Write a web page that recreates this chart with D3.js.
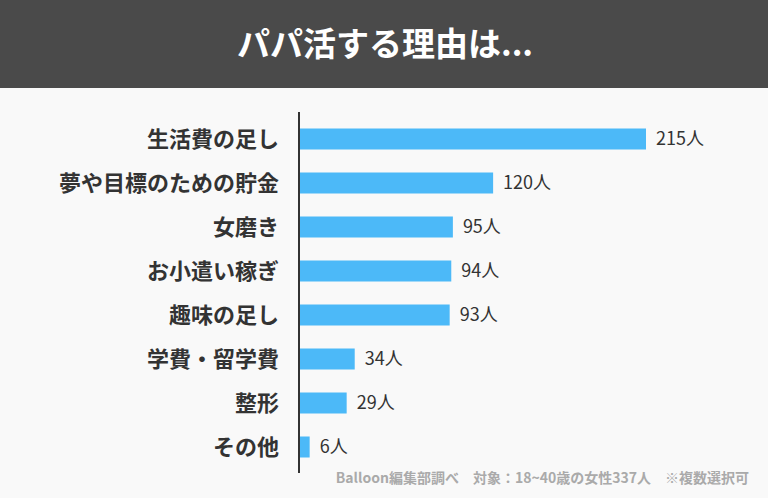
<!DOCTYPE html>
<html><head><meta charset="utf-8">
<script src="https://cdn.jsdelivr.net/npm/d3@7"></script>
<style>html,body{margin:0;padding:0;background:#f9f9f9;}svg{display:block;}</style>
</head><body>
<svg id="c" width="768" height="498"></svg>
<script>
const title = "パパ活する理由は...";
const categories = ["生活費の足し","夢や目標のための貯金","女磨き","お小遣い稼ぎ","趣味の足し","学費・留学費","整形","その他"];
const values = [215,120,95,94,93,34,29,6];
const unit = "人";
const footnote = "Balloon編集部調べ　対象：18~40歳の女性337人　※複数選択可";

const font = "'Noto Sans CJK JP','Noto Sans',sans-serif";
const svg = d3.select("#c");
svg.append("rect").attr("width",768).attr("height",498).attr("fill","#f9f9f9");
svg.append("rect").attr("width",768).attr("height",88).attr("fill","#4a4a4a");
svg.append("text").attr("x",385).attr("y",44).attr("dy","0.36em").attr("text-anchor","middle")
  .attr("fill","#fff").attr("font-family",font).attr("font-weight",700).attr("font-size",33).text(title);

const x = d3.scaleLinear().domain([0,215]).range([300,646]);
const y = d3.scaleBand().domain(categories).range([105.5,480.5]).paddingInner(0.5227).paddingOuter(0.5227);

const data = categories.map((c,i)=>({c, v: values[i]}));
svg.selectAll("rect.bar").data(data).enter().append("rect").attr("class","bar")
  .attr("x",x(0)).attr("y",d=>y(d.c)).attr("width",d=>x(d.v)-x(0)).attr("height",y.bandwidth())
  .attr("fill","#4cb9f8");

svg.selectAll("text.val").data(data).enter().append("text").attr("class","val")
  .attr("x",d=>x(d.v)+10).attr("y",d=>y(d.c)+y.bandwidth()/2).attr("dy","0.36em")
  .attr("fill","#333").attr("font-family",font).attr("font-size",18).text(d=>d.v+unit);

svg.selectAll("text.cat").data(data).enter().append("text").attr("class","cat")
  .attr("x",279).attr("y",d=>y(d.c)+y.bandwidth()/2).attr("dy","0.36em").attr("text-anchor","end")
  .attr("fill","#333").attr("font-family",font).attr("font-weight",700).attr("font-size",22).text(d=>d.c);

svg.append("line").attr("x1",299).attr("x2",299).attr("y1",112).attr("y2",473)
  .attr("stroke","#333").attr("stroke-width",2);

svg.append("text").attr("x",749).attr("y",483).attr("text-anchor","end")
  .attr("fill","#aaa").attr("font-family",font).attr("font-weight",700).attr("font-size",14).text(footnote);
</script>
</body></html>
